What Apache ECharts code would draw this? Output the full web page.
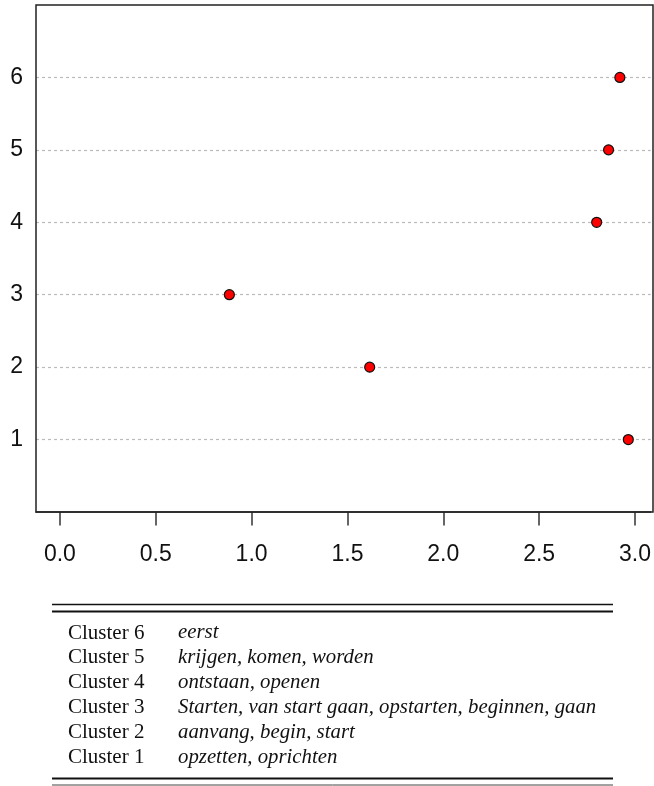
<!DOCTYPE html>
<html>
<head>
<meta charset="utf-8">
<script src="https://cdn.jsdelivr.net/npm/echarts@6/dist/echarts.min.js"></script>
<style>
html,body{margin:0;padding:0;background:#fff;}
#c{width:654px;height:786px;}
</style>
</head>
<body>
<div id="c"></div>
<script>
// ---- data ----
var clusterIds = [1, 2, 3, 4, 5, 6];
var clusterValues = [2.965, 1.616, 0.884, 2.80, 2.862, 2.921];
var xTickValues = [0, 0.5, 1, 1.5, 2, 2.5, 3];
var yTickValues = [1, 2, 3, 4, 5, 6];
var tableNames = ['Cluster 6', 'Cluster 5', 'Cluster 4', 'Cluster 3', 'Cluster 2', 'Cluster 1'];
var tableWords = ['eerst', 'krijgen, komen, worden', 'ontstaan, openen',
  'Starten, van start gaan, opstarten, beginnen, gaan', 'aanvang, begin, start', 'opzetten, oprichten'];

// ---- layout ----
var G = {left: 36, top: 5, width: 617, height: 507};
var chart = echarts.init(document.getElementById('c'), null, {renderer: 'canvas'});

var points = clusterIds.map(function (id, i) { return [clusterValues[i], id]; });

var graphics = [];
// plot box
graphics.push({
  type: 'rect', z: 100, silent: true,
  shape: {x: G.left, y: G.top, width: G.width, height: G.height},
  style: {fill: null, stroke: '#222', lineWidth: 1.5}
});
// table rules
var ruleX1 = 52, ruleX2 = 613;
[[604.5, 1.3, '#111'], [611.5, 1.8, '#111'], [778.5, 1.8, '#111'], [785, 1.0, '#444']].forEach(function (r) {
  graphics.push({type: 'line', silent: true,
    shape: {x1: ruleX1, y1: r[0], x2: ruleX2, y2: r[0]},
    style: {stroke: r[2], lineWidth: r[1]}});
});
// table rows
tableNames.forEach(function (name, i) {
  var y = 633 + i * 24.9;
  graphics.push({type: 'text', silent: true, x: 68, y: y,
    style: {text: name, fill: '#111', font: '21px "Liberation Serif", serif', verticalAlign: 'middle', align: 'left'}});
  graphics.push({type: 'text', silent: true, x: 178, y: y,
    style: {text: tableWords[i], fill: '#111', font: 'italic 20.8px "Liberation Serif", serif', verticalAlign: 'middle', align: 'left'}});
});

chart.setOption({
  animation: false,
  backgroundColor: '#fff',
  grid: {left: G.left, top: G.top, width: G.width, height: G.height, containLabel: false},
  xAxis: {
    type: 'value', min: -0.1246, max: 3.082,
    axisLine: {show: true, lineStyle: {color: '#222', width: 1.5}},
    axisTick: {show: true, customValues: xTickValues, length: 13.5, lineStyle: {color: '#333', width: 1.5}},
    axisLabel: {show: true, customValues: xTickValues, margin: 31, color: '#111',
      fontFamily: '"Liberation Sans", Arial, sans-serif', fontSize: 23,
      formatter: function (v) { return v.toFixed(1); }},
    splitLine: {show: false}
  },
  yAxis: {
    type: 'value', min: 0, max: 7, interval: 1,
    axisLine: {show: false},
    axisTick: {show: false},
    axisLabel: {show: true, margin: 13, color: '#111',
      fontFamily: '"Liberation Sans", Arial, sans-serif', fontSize: 23,
      formatter: function (v) { return yTickValues.indexOf(v) >= 0 ? String(v) : ''; }},
    splitLine: {show: true, showMinLine: false, showMaxLine: false,
      lineStyle: {color: '#bbbbbb', width: 1.2, type: [3, 3]}}
  },
  series: [{
    type: 'scatter', data: points, symbol: 'circle', symbolSize: 10,
    itemStyle: {color: '#ff0000', borderColor: '#111', borderWidth: 1.2, opacity: 1},
    z: 5
  }],
  graphic: graphics
});
</script>
</body>
</html>
